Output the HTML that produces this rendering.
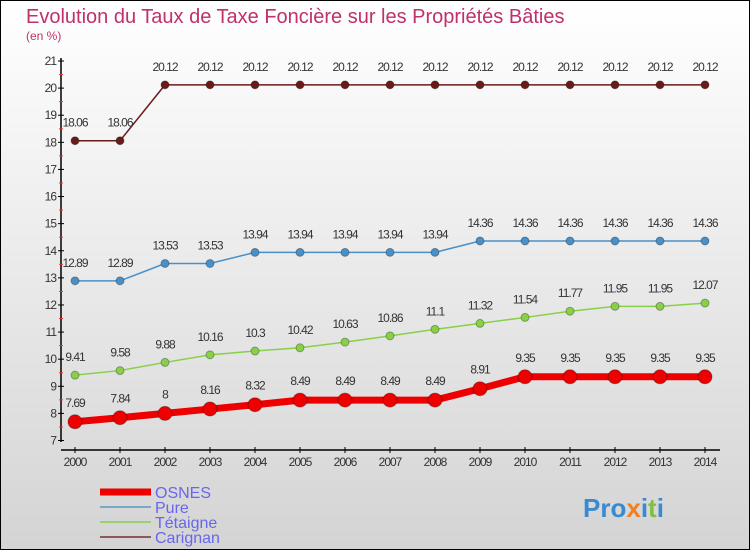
<!DOCTYPE html>
<html><head><meta charset="utf-8"><style>
body{margin:0}
#c{width:750px;height:550px;position:relative;box-sizing:border-box;border:1px solid #000;background:linear-gradient(#fff,#d4d4d4);font-family:"Liberation Sans",sans-serif;overflow:hidden}
</style></head><body>
<div id="c">
<svg id="s" width="750" height="550" style="position:absolute;left:-1px;top:-1px">
<text x="26" y="23" font-size="20" fill="#c0306a">Evolution du Taux de Taxe Foncière sur les Propriétés Bâties</text>
<text x="26" y="40" font-size="12" fill="#c0306a">(en %)</text>
</svg>
</div>
<script>
const years=[2000,2001,2002,2003,2004,2005,2006,2007,2008,2009,2010,2011,2012,2013,2014];
const osnes=[7.69,7.84,8,8.16,8.32,8.49,8.49,8.49,8.49,8.91,9.35,9.35,9.35,9.35,9.35];
const pure=[12.89,12.89,13.53,13.53,13.94,13.94,13.94,13.94,13.94,14.36,14.36,14.36,14.36,14.36,14.36];
const tetaigne=[9.41,9.58,9.88,10.16,10.3,10.42,10.63,10.86,11.1,11.32,11.54,11.77,11.95,11.95,12.07];
const carignan=[18.06,18.06,20.12,20.12,20.12,20.12,20.12,20.12,20.12,20.12,20.12,20.12,20.12,20.12,20.12];
const yTicks=[7,8,9,10,11,12,13,14,15,16,17,18,19,20,21];
const NS="http://www.w3.org/2000/svg",s=document.getElementById('s');
const X=i=>75+i*45, Y=v=>440.5-(v-7)*(379.5/14);
function el(t,a,p){const e=document.createElementNS(NS,t);for(const k in a)e.setAttribute(k,a[k]);(p||s).appendChild(e);return e;}
// axes
let ax=el('line',{x1:61,y1:58,x2:61,y2:442,stroke:'#000','stroke-width':1.5});


let xa=el('line',{x1:61,y1:450,x2:720,y2:450,stroke:'#000','stroke-width':1.5});


yTicks.forEach(v=>{
  el('line',{x1:58,x2:64,y1:Y(v),y2:Y(v),stroke:'#000'});
  if(v<21)el('line',{x1:59,x2:63,y1:Y(v+0.5),y2:Y(v+0.5),stroke:'#e33'});
  const t=el('text',{x:56,y:Y(v)+4,'text-anchor':'end','font-size':12,fill:'#333','letter-spacing':'-1'});
  t.textContent=v;
  
  
});
years.forEach((yr,i)=>{
  el('line',{x1:X(i),x2:X(i),y1:447,y2:453,stroke:'#000'});
  const t=el('text',{x:X(i),y:466,'text-anchor':'middle','font-size':12,fill:'#333','letter-spacing':'-1'});
  t.textContent=yr;
  
  
});
function series(vals,color,lw,r,name,dy){
  const g=el('g',{});
  
  
  const p=el('polyline',{points:vals.map((v,i)=>X(i)+','+Y(v)).join(' '),fill:'none',stroke:color,'stroke-width':lw,'stroke-linejoin':'round'},g);
  
  
  vals.forEach((v,i)=>{
    const c=el('circle',{cx:X(i),cy:Y(v),r:r,fill:color,stroke:'rgba(0,0,0,0.3)','stroke-width':1},g);
    
    
    const t=el('text',{x:X(i),y:Y(v)-dy,'text-anchor':'middle','font-size':12,fill:'#333','letter-spacing':'-1'},g);
    t.textContent=v;
    
    
  });
}
series(carignan,'#6b1a1a',1.5,4,'carignan',14);
series(pure,'#4a90c8',1.5,4,'pure',14);
series(tetaigne,'#88d048',1.5,4,'tetaigne',14);
series(osnes,'#ee0000',7,7,'osnes',15);
// legend
const leg=[['OSNES','#ee0000',7,492],['Pure','#7aa8c8',2,507],['Tétaigne','#9ad070',2,522],['Carignan','#8a5a5a',2,537]];
leg.forEach(([n,c,w,y])=>{
  const g=el('g',{});
  
  
  el('line',{x1:100,x2:151,y1:y,y2:y,stroke:c,'stroke-width':w},g);
  const t=el('text',{x:155,y:y+6,'font-size':16,fill:'#6666ee'},g);
  t.textContent=n;
});
const lg=el('text',{x:583,y:517,'font-size':26,'font-weight':'bold',fill:'#3a8ad0'});
lg.innerHTML='Pro<tspan fill="#f08020">x</tspan>i<tspan fill="#80c040">t</tspan>i';


</script>
</body></html>
